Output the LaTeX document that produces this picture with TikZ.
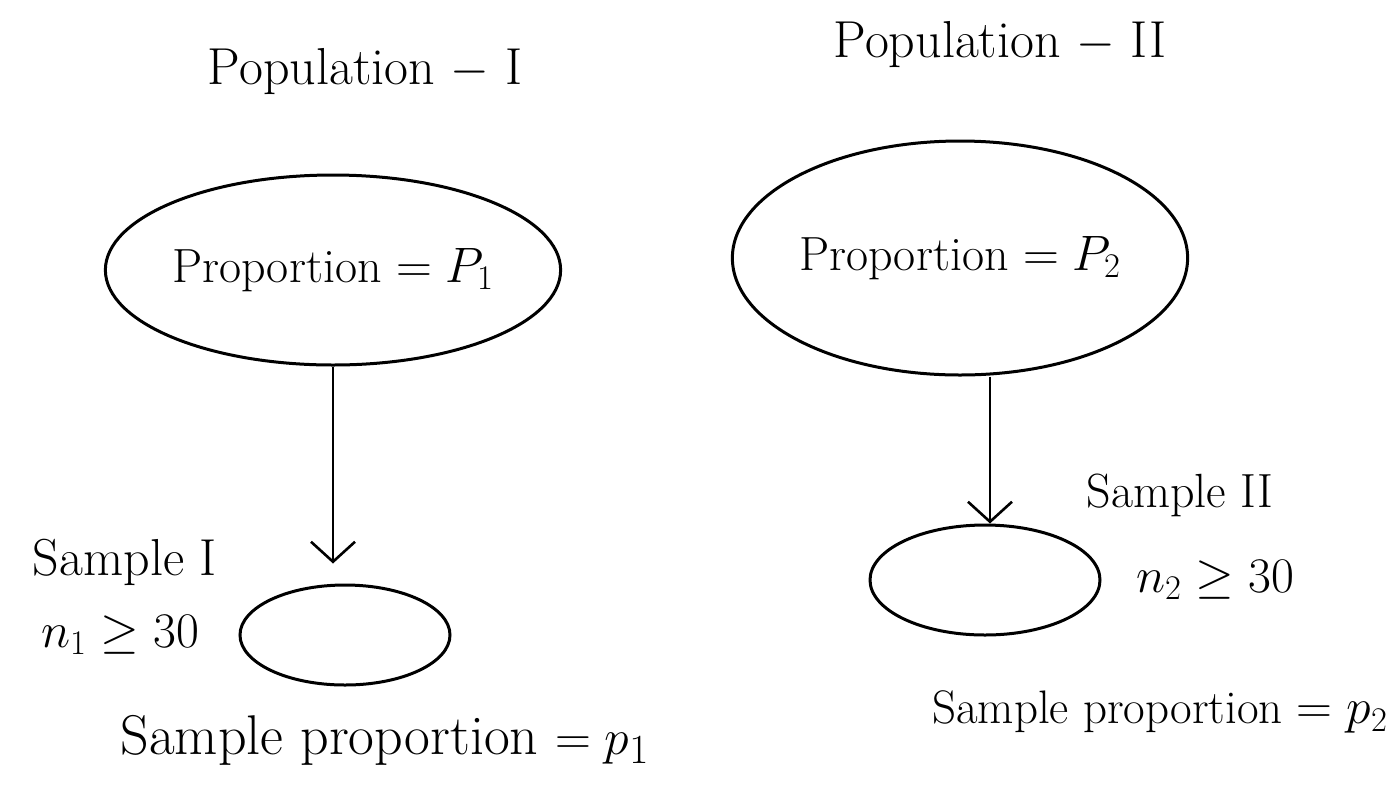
\documentclass[tikz,border=0pt]{standalone}
\usetikzlibrary{shapes.geometric,arrows.meta}
\begin{document}
\begin{tikzpicture}[x=0.5pt,y=-0.5pt,
  hand/.style={font=\fontsize{24}{28}\selectfont},
  bigell/.style={ellipse,draw,line width=1.5pt,inner sep=0pt,font=\fontsize{24}{28}\selectfont},
  arr/.style={line width=1.3pt,-{Straight Barb[length=10pt,width=22pt,line width=1.3pt]}}]
\useasboundingbox (0,0) rectangle (1398,810);
\node[hand,font=\fontsize{26}{30}\selectfont] (pop1) at (365,72) {Population $-$ I};
\node[hand,font=\fontsize{26}{30}\selectfont] (pop2) at (1000,45) {Population $-$ II};
\node[bigell,minimum width=212pt,minimum height=95pt] (e1) at (333,270) {Proportion $=P_1$};
\node[bigell,minimum width=205pt,minimum height=117pt] (e2) at (960,258) {Proportion $=P_2$};
\node[bigell,minimum width=105pt,minimum height=50pt] (s1) at (345,635) {};
\node[bigell,minimum width=115pt,minimum height=55pt] (s2) at (985,580) {};
\draw[arr,shorten >=10pt] (e1.south -| 333,0) -- (s1.north -| 333,0);
\draw[arr] (e2.south -| 990,0) -- (s2.north -| 990,0);
\node[hand,font=\fontsize{26}{30}\selectfont] (lab1) at (125,562) {Sample I};
\node[hand] (n1) at (120,635) {$n_1\geq 30$};
\node[hand,font=\fontsize{28}{32}\selectfont] (sp1) at (385,740) {Sample proportion $=p_1$};
\node[hand] (lab2) at (1180,495) {Sample II};
\node[hand] (n2) at (1215,580) {$n_2\geq 30$};
\node[hand,font=\fontsize{23.5}{27}\selectfont] (sp2) at (1160,712) {Sample proportion $=p_2$};
\end{tikzpicture}
\end{document}
